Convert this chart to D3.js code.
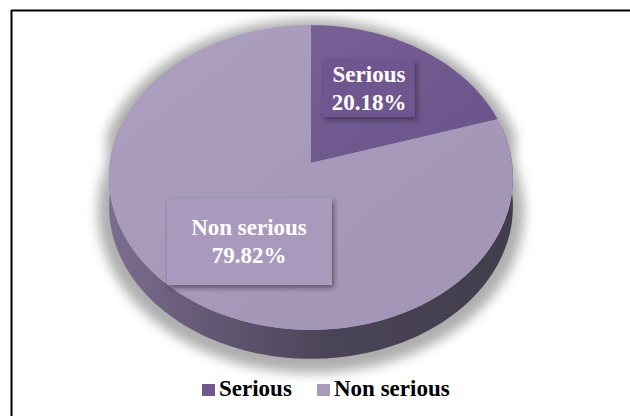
<!DOCTYPE html>
<html>
<head>
<meta charset="utf-8">
<script src="https://cdn.jsdelivr.net/npm/d3@7"></script>
<style>
  html, body { margin: 0; padding: 0; background: #fff; }
  svg { display: block; }
  .serif { font-family: "Times New Roman", Times, "Liberation Serif", Tinos, "Nimbus Roman", serif; font-weight: bold; }
</style>
</head>
<body>
<script>
// datos del gráfico
const categories = ["Serious", "Non serious"];
const values = [20.18, 79.82];
const percentLabels = ["20.18%", "79.82%"];
const sliceColors = ["#6f578f", "#a99abd"];

const width = 630, height = 416;

// geometría del pastel 3D (proyección con perspectiva)
const cx = 311, cy = 163;      // centro proyectado del pastel
const A = 201, B = 151, e = 0.095, depth = 29;

const svg = d3.select("body").append("svg")
    .attr("width", width)
    .attr("height", height);

const defs = svg.append("defs");

// sombra difusa debajo del pastel
const blur = defs.append("filter").attr("id", "blur")
    .attr("x", "-20%").attr("y", "-20%").attr("width", "140%").attr("height", "140%");
blur.append("feGaussianBlur").attr("stdDeviation", 6);

const boxShadow = defs.append("filter").attr("id", "boxShadow")
    .attr("x", "-20%").attr("y", "-20%").attr("width", "150%").attr("height", "150%");
boxShadow.append("feDropShadow")
    .attr("dx", 2).attr("dy", 3).attr("stdDeviation", 2.5)
    .attr("flood-color", "#2a2233").attr("flood-opacity", 0.55);

// gradiente para la pared lateral
const wallGrad = defs.append("linearGradient").attr("id", "wallGrad")
    .attr("gradientUnits", "userSpaceOnUse")
    .attr("x1", cx - A).attr("x2", cx + A).attr("y1", 0).attr("y2", 0);
wallGrad.append("stop").attr("offset", "0%").attr("stop-color", "#7c6d90");
wallGrad.append("stop").attr("offset", "30%").attr("stop-color", "#5e546e");
wallGrad.append("stop").attr("offset", "55%").attr("stop-color", "#4a4458");
wallGrad.append("stop").attr("offset", "100%").attr("stop-color", "#423d4b");

// brillo suave sobre la cara superior
const topGrad = defs.append("linearGradient").attr("id", "topGrad")
    .attr("x1", "0%").attr("x2", "100%").attr("y1", "0%").attr("y2", "100%");
topGrad.append("stop").attr("offset", "0%").attr("stop-color", "#fff").attr("stop-opacity", 0.06);
topGrad.append("stop").attr("offset", "100%").attr("stop-color", "#000").attr("stop-opacity", 0.03);

// marco (solo arriba y a la izquierda)
svg.append("line").attr("x1", 11).attr("y1", 10.5).attr("x2", width).attr("y2", 10.5)
    .attr("stroke", "#000").attr("stroke-width", 2);
svg.append("line").attr("x1", 11.5).attr("y1", 10).attr("x2", 11.5).attr("y2", height)
    .attr("stroke", "#000").attr("stroke-width", 2);

const color = d3.scaleOrdinal().domain(categories).range(sliceColors);

const pie = d3.pie().sort(null).value(d => d.value);
const arcs = pie(categories.map((c, i) => ({ name: c, value: values[i], label: percentLabels[i] })));

// punto del borde para un ángulo (0 = arriba, sentido horario)
const pt = (a, dy = 0) => {
    const u = Math.sin(a), v = -Math.cos(a);
    const w = 1 - e * v;
    return [cx + A * u / w, cy + B * v / w + dy];
};
const arcPoints = (a0, a1, dy = 0) => {
    const n = Math.max(2, Math.ceil((a1 - a0) / 0.02));
    return d3.range(n + 1).map(k => pt(a0 + (a1 - a0) * k / n, dy));
};
const line = d3.line().curve(d3.curveLinearClosed);

// sombra: silueta completa extruida y desenfocada
const silhouette = arcPoints(Math.PI / 2 - 0.2, 3 * Math.PI / 2 + 0.2, depth)
    .concat(arcPoints(3 * Math.PI / 2 + 0.2, 2 * Math.PI + Math.PI / 2 - 0.2));
svg.append("path")
    .attr("d", line(silhouette.map(([x, y]) => [cx + (x - cx) * 1.055, 190 + (y - 190) * 1.06 + 4])))
    .attr("fill", "#9a9a9a")
    .attr("opacity", 0.8)
    .attr("filter", "url(#blur)");

// paredes laterales visibles
arcs.forEach(d => {
    const a0 = Math.max(d.startAngle, Math.PI / 2 - 0.25);
    const a1 = Math.min(d.endAngle, 3 * Math.PI / 2 + 0.25);
    if (a1 <= a0) return;
    const pts = arcPoints(a0, a1).concat(arcPoints(a0, a1, depth).reverse());
    svg.append("path")
        .attr("d", line(pts))
        .attr("fill", "url(#wallGrad)");
});

// cara superior
arcs.forEach(d => {
    const pts = [[cx, cy]].concat(arcPoints(d.startAngle, d.endAngle));
    svg.append("path").attr("d", line(pts)).attr("fill", color(d.data.name));
    svg.append("path").attr("d", line(pts)).attr("fill", "url(#topGrad)");
});

// etiquetas con caja
const labelBoxes = [
    { x: 323, y: 59, w: 92, h: 58, tx: 369, ty: 82 },
    { x: 167, y: 198, w: 165, h: 87, tx: 249, ty: 235 }
];
arcs.forEach((d, i) => {
    const b = labelBoxes[i];
    svg.append("rect")
        .attr("x", b.x).attr("y", b.y).attr("width", b.w).attr("height", b.h)
        .attr("fill", color(d.data.name))
        .attr("filter", "url(#boxShadow)");
    const t = svg.append("text")
        .attr("class", "serif")
        .attr("x", b.tx).attr("y", b.ty)
        .attr("text-anchor", "middle")
        .attr("fill", "#fff")
        .style("font-size", "23px");
    t.append("tspan").attr("x", b.tx).text(d.data.name);
    t.append("tspan").attr("x", b.tx).attr("dy", 28).text(d.data.label);
});

// leyenda
const legend = svg.append("g").attr("id", "legend");
const legendX = [202, 317];
categories.forEach((c, i) => {
    legend.append("rect")
        .attr("x", legendX[i]).attr("y", 384)
        .attr("width", 13).attr("height", 12)
        .attr("fill", color(c));
    legend.append("text")
        .attr("class", "serif")
        .attr("x", legendX[i] + 17).attr("y", 396)
        .attr("fill", "#000")
        .style("font-size", "23px")
        .text(c);
});
</script>
</body>
</html>
